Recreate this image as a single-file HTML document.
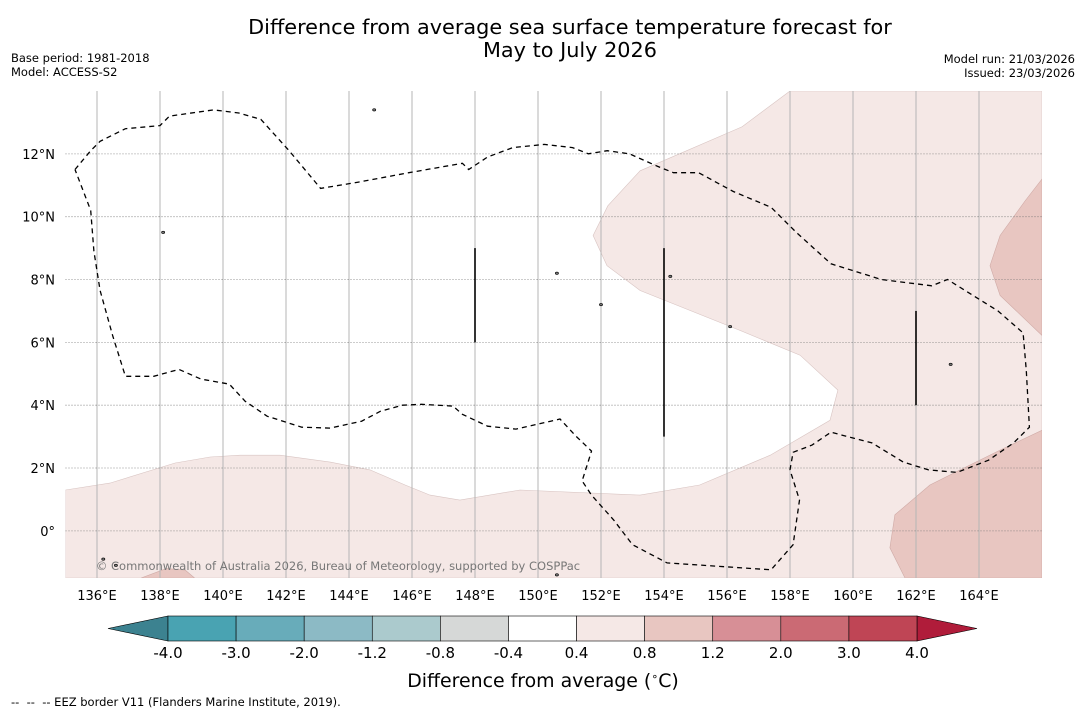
<!DOCTYPE html>
<html><head><meta charset="utf-8"><style>
body{margin:0;background:#fff;width:1085px;height:713px;overflow:hidden;font-family:"DejaVu Sans","Liberation Sans",sans-serif;}
svg text{font-family:"DejaVu Sans","Liberation Sans",sans-serif;}
</style></head><body>
<svg id="chart" width="1085" height="713" xmlns="http://www.w3.org/2000/svg">
<text x="570" y="34" font-size="20.8" text-anchor="middle">Difference from average sea surface temperature forecast for</text>
<text x="570" y="57" font-size="20.8" text-anchor="middle">May to July 2026</text>
<text x="11" y="62" font-size="11.5">Base period: 1981-2018</text>
<text x="11" y="76" font-size="11.5">Model: ACCESS-S2</text>
<text x="1075" y="63" font-size="11.5" text-anchor="end">Model run: 21/03/2026</text>
<text x="1075" y="77" font-size="11.5" text-anchor="end">Issued: 23/03/2026</text>
<g id="map"></g>
<g id="cbar"></g>
<text x="543" y="687" font-size="18.9" text-anchor="middle">Difference from average (<tspan font-size="11" dy="-7">∘</tspan><tspan dy="7">C)</tspan></text>
<text x="11" y="706" font-size="11.5">-- &#160;-- &#160;-- EEZ border V11 (Flanders Marine Institute, 2019).</text>
</svg>
<script>
const lonTicks=[136,138,140,142,144,146,148,150,152,154,156,158,160,162,164];
const latTicks=[12,10,8,6,4,2,0];
const cbLevels=["-4.0","-3.0","-2.0","-1.2","-0.8","-0.4","0.4","0.8","1.2","2.0","3.0","4.0"];
const cbColors=["#49a3b2","#68acba","#8cbac5","#abcacd","#d6d8d7","#ffffff","#f5e8e6","#e8c6c1","#d78f96","#cb6a74","#bf4555"];
// anomaly regions [lon,lat]
const pinkEdge=[[158.0,14],[156.48,12.86],[153.24,11.46],[152.22,10.35],[151.75,9.4],[152.19,8.44],[153.24,7.65],[156.41,6.38],[158.32,5.59],[159.52,4.48],[159.27,3.52],[157.37,2.41],[155.13,1.46],[153.24,1.14],[149.43,1.3],[147.52,0.98],[146.57,1.14],[145.78,1.46],[144.67,1.94],[143.4,2.19],[141.81,2.41],[140.54,2.41],[139.59,2.35],[138.48,2.16],[136.41,1.52],[135,1.3]];
const darkA=[[166,11.2],[165.46,10.5],[164.67,9.4],[164.35,8.44],[164.67,7.49],[166,6.22]];
const darkB=[[166,3.2],[164.67,2.57],[163.4,1.94],[162.44,1.46],[161.33,0.51],[161.17,-0.54],[161.65,-1.5],[166,-1.5]];
const darkC=[[137.4,-1.5],[138.2,-1.2],[138.8,-1.25],[139.1,-1.5]];
const eez=[[135.3,11.5],[135.8,12.1],[136.1,12.4],[136.9,12.8],[138,12.9],[138.3,13.2],[139.7,13.4],[140.5,13.3],[141.2,13.1],[142.1,12.1],[143.1,10.9],[144.3,11.1],[145.9,11.4],[147.6,11.7],[147.8,11.5],[148.4,11.9],[149.2,12.2],[150.2,12.3],[151.1,12.2],[151.6,12.0],[152.2,12.1],[152.9,12.0],[153.8,11.6],[154.3,11.4],[155.1,11.4],[156.2,10.8],[157.4,10.3],[158.2,9.5],[159.3,8.5],[160.9,8.0],[162.5,7.8],[163.0,8.0],[164.6,7.0],[165.4,6.3],[165.5,5.1],[165.6,3.3],[165.1,2.8],[164.3,2.25],[163.3,1.86],[162.4,1.94],[161.6,2.19],[160.6,2.8],[159.9,2.98],[159.3,3.14],[158.7,2.73],[158.1,2.5],[158.0,1.94],[158.3,0.98],[158.1,-0.44],[157.4,-1.24],[154.1,-1.02],[153.0,-0.44],[152.4,0.35],[151.7,1.14],[151.4,1.59],[151.6,2.22],[151.7,2.54],[151.2,3.02],[150.7,3.56],[150.4,3.49],[149.3,3.24],[148.4,3.33],[147.6,3.71],[147.3,3.97],[146.3,4.03],[145.7,4.0],[145.0,3.81],[144.4,3.49],[143.4,3.27],[142.5,3.30],[141.4,3.65],[140.7,4.13],[140.2,4.67],[139.3,4.83],[138.6,5.14],[137.8,4.92],[136.9,4.92],[136.5,6.2],[136.1,7.65],[135.9,8.9],[135.8,10.2],[135.3,11.5]];
const sticks=[[148,6,9],[154,3,9],[162,4,7]];
const islands=[[144.8,13.4],[138.1,9.5],[150.6,8.2],[156.1,6.5],[163.1,5.3],[136.2,-0.9],[136.6,-1.1],[150.6,-1.4],[154.2,8.1],[152.0,7.2]];

const NS="http://www.w3.org/2000/svg";
const X0=65.5,X1=1042,Y0=91,Y1=578,LON0=135,LON1=166,LAT0=14,LAT1=-1.5;
const xs=l=>X0+(l-LON0)*(X1-X0)/(LON1-LON0);
const ys=l=>Y0+(LAT0-l)*(Y1-Y0)/(LAT0-LAT1);
function mk(p,tag,attrs){const e=document.createElementNS(NS,tag);for(const k in attrs)e.setAttribute(k,attrs[k]);p.appendChild(e);return e;}
const map=document.getElementById('map');
const pts=a=>a.map(p=>xs(p[0]).toFixed(1)+','+ys(p[1]).toFixed(1)).join(' ');
mk(map,'defs',{}).innerHTML='<clipPath id="cp"><rect x="'+X0+'" y="'+Y0+'" width="'+(X1-X0)+'" height="'+(Y1-Y0)+'"/></clipPath>';
const g=mk(map,'g',{'clip-path':'url(#cp)'});
let e=mk(g,'polygon',{points:pts(pinkEdge.concat([[135,-1.5],[166,-1.5],[166,14]])),fill:cbColors[6],stroke:'#d8c4c2','stroke-width':0.6});


[darkA,darkB,darkC].forEach((d,i)=>{const p=mk(g,'polygon',{points:pts(d),fill:cbColors[7],stroke:'#cfaaa6','stroke-width':0.6});

});
lonTicks.forEach(l=>{const ln=mk(g,'line',{x1:xs(l),x2:xs(l),y1:Y0,y2:Y1,stroke:'#b5b5b5','stroke-width':1});


const t=mk(map,'text',{x:xs(l),y:600,'font-size':13,'text-anchor':'middle'});t.textContent=l+'°E';

});
latTicks.forEach(l=>{const ln=mk(g,'line',{x1:X0,x2:X1,y1:ys(l),y2:ys(l),stroke:'#777','stroke-width':0.8,'stroke-dasharray':'1,2'});


const t=mk(map,'text',{x:55,y:ys(l)+5,'font-size':13,'text-anchor':'end'});t.textContent=l===0?'0°':l+'°N';

});
e=mk(g,'polyline',{points:pts(eez),fill:'none',stroke:'#000','stroke-width':1.3,'stroke-dasharray':'5,4'});


sticks.forEach(s=>{const l=mk(g,'line',{x1:xs(s[0]),x2:xs(s[0]),y1:ys(s[2]),y2:ys(s[1]),stroke:'#000','stroke-width':1.6});

});
islands.forEach(s=>{const c=mk(g,'ellipse',{cx:xs(s[0]),cy:ys(s[1]),rx:1.6,ry:1.2,fill:'#777',stroke:'#000','stroke-width':0.6});

});
e=mk(map,'text',{x:338,y:570,'font-size':11.5,'text-anchor':'middle',fill:'#777'});
e.textContent='© Commonwealth of Australia 2026, Bureau of Meteorology, supported by COSPPac';


// colorbar
const cb=document.getElementById('cbar');
const CX0=168,CX1=917,CY0=616,CY1=641,n=cbColors.length,w=(CX1-CX0)/n;
e=mk(cb,'polygon',{points:`108,628.5 ${CX0},${CY0} ${CX0},${CY1}`,fill:'#3c8290',stroke:'#000','stroke-width':0.6});


e=mk(cb,'polygon',{points:`977,628.5 ${CX1},${CY0} ${CX1},${CY1}`,fill:'#b01c3a',stroke:'#000','stroke-width':0.6});


cbColors.forEach((c,i)=>{const r=mk(cb,'rect',{x:CX0+i*w,y:CY0,width:w,height:CY1-CY0,fill:c,stroke:'#000','stroke-width':0.6});

});
cbLevels.forEach((v,i)=>{const t=mk(cb,'text',{x:CX0+i*w,y:658,'font-size':15,'text-anchor':'middle'});t.textContent=v;

});
</script>
</body></html>
